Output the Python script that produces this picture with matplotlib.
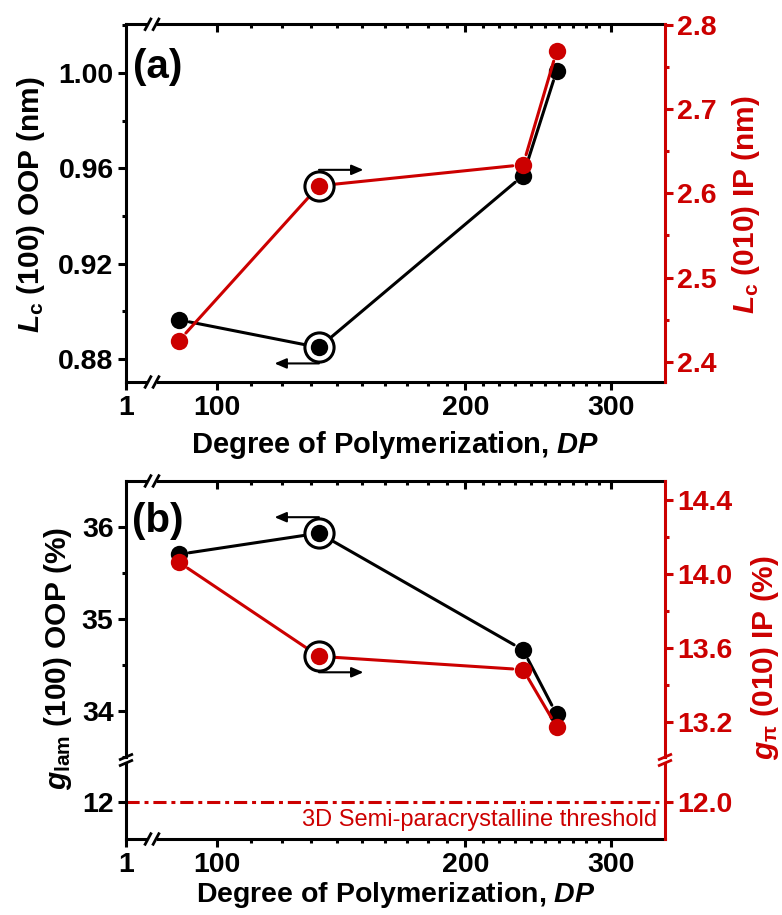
import matplotlib

matplotlib.use("Agg")
import matplotlib.pyplot as plt
import numpy as np
from matplotlib.lines import Line2D
from matplotlib.ticker import FixedLocator, FormatStrFormatter, MultipleLocator, NullLocator
from matplotlib.transforms import offset_copy

# degree of polymerization of the four batches
dp = [90, 133, 235, 258]

# (a) crystal coherence lengths
lc_oop = [0.8964, 0.8848, 0.957, 1.001]  # nm, (100) out-of-plane
lc_ip = [2.425, 2.609, 2.634, 2.769]  # nm, (010) in-plane

# (b) paracrystalline disorder
g_lam = [35.70, 35.93, 34.66, 33.96]  # %, (100) out-of-plane
g_pi = [14.063, 13.554, 13.482, 13.173]  # %, (010) in-plane
g_threshold = 12.0

x_major = [1, 100, 200, 300]
x_major_labels = ["1", "100", "200", "300"]
x_minor = list(range(110, 300, 10))

RED = "#CC0000"
LW = 2.2
FIG_W, FIG_H = 782, 915

plt.rcParams.update(
    {
        "font.family": ["Liberation Sans", "DejaVu Sans"],
        "font.weight": "bold",
        "font.size": 20.5,
        "axes.labelweight": "bold",
        "mathtext.fontset": "custom",
        "mathtext.rm": "Liberation Sans:bold",
        "mathtext.it": "Liberation Sans:italic:bold",
        "mathtext.bf": "Liberation Sans:bold",
        "axes.linewidth": LW,
    }
)

# broken log axis: a short stub holding "1", then a log10 scale from ~84 up
BREAK_DP = 83.5
STUB_DECADES = 0.0315


def fwd(x):
    x = np.asarray(x, dtype=float)
    lb = np.log10(BREAK_DP)
    logx = np.log10(np.clip(x, 1e-9, None))
    stub = lb - (BREAK_DP - x) / (BREAK_DP - 1) * STUB_DECADES
    return np.where(x >= BREAK_DP, logx, stub)


def inv(y):
    y = np.asarray(y, dtype=float)
    lb = np.log10(BREAK_DP)
    up = np.power(10.0, np.clip(y, -50, 50))
    stub = BREAK_DP - (lb - y) / STUB_DECADES * (BREAK_DP - 1)
    return np.where(y >= lb, up, stub)


fig = plt.figure(figsize=(FIG_W / 100, FIG_H / 100), dpi=100)


def px_axes(left, top, right, bottom):
    return fig.add_axes(
        [left / FIG_W, 1 - bottom / FIG_H, (right - left) / FIG_W, (bottom - top) / FIG_H]
    )


def px_line(xs, ys, **kw):
    xs = np.asarray(xs, dtype=float) / FIG_W
    ys = 1 - np.asarray(ys, dtype=float) / FIG_H
    fig.add_artist(Line2D(xs, ys, transform=fig.transFigure, solid_capstyle="butt", **kw))


def set_x(ax):
    ax.set_xscale("function", functions=(fwd, inv))
    ax.set_xlim(1, 349)


def tick_style(ax, axis, direction, color="black"):
    ax.tick_params(axis=axis, which="major", direction=direction, length=6, width=LW,
                   colors=color, labelsize=20.5, pad=3)
    ax.tick_params(axis=axis, which="minor", direction=direction, length=3, width=LW,
                   colors=color)


def only_spines(ax, visible, color="black"):
    for name, sp in ax.spines.items():
        sp.set_visible(name in visible)
        sp.set_color(color)


def bottom_x(ax):
    ax.xaxis.set_major_locator(FixedLocator(x_major))
    ax.xaxis.set_minor_locator(FixedLocator(x_minor))
    ax.set_xticklabels(x_major_labels)
    tick_style(ax, "x", "out")


def top_x(ax):
    tw = ax.twiny()
    set_x(tw)
    tw.xaxis.set_major_locator(FixedLocator(x_major[1:]))
    tw.xaxis.set_minor_locator(FixedLocator(x_minor))
    tw.tick_params(axis="x", labeltop=False)
    tick_style(tw, "x", "in")
    only_spines(tw, [])
    return tw


def series(ax, x, y, color):
    for i in range(len(x) - 1):
        ax.annotate("", xy=(x[i + 1], y[i + 1]), xytext=(x[i], y[i]),
                    arrowprops=dict(arrowstyle="-", lw=LW, color=color,
                                    shrinkA=7.5, shrinkB=7.5),
                    zorder=2)
    ax.plot(x, y, "o", ms=12.5, color=color, mec=color, mew=0, zorder=5)


def ring(ax, x, y, side, direction):
    ax.plot([x], [y], "o", ms=21, mfc="white", mec="black", mew=LW, zorder=4)
    dy = 11.5 if side == "top" else -11.5
    start = offset_copy(ax.transData, fig=fig, x=0, y=dy, units="points")
    end = offset_copy(ax.transData, fig=fig, x=32 * direction, y=dy, units="points")
    ax.annotate("", xy=(x, y), xycoords=end, xytext=(x, y), textcoords=start,
                arrowprops=dict(arrowstyle="-|>,head_length=0.7,head_width=0.3",
                                mutation_scale=10, lw=1.5, color="black",
                                shrinkA=0, shrinkB=0),
                zorder=4)


def x_break(cx, cy):
    px_line([cx - 5, cx + 5], [cy, cy], color="white", lw=4, zorder=10)
    for off in (-4, 4):
        px_line([cx + off - 3.5, cx + off + 3.5], [cy + 6.5, cy - 6.5],
                color="black", lw=2, zorder=11)


def y_break(cx, cy, color):
    for off in (-3, 3):
        px_line([cx - 7, cx + 7], [cy + off + 3, cy + off - 3], color=color, lw=2, zorder=11)


# ---------------- (a) coherence length ----------------
ax_a = px_axes(126, 24.3, 665, 382)
set_x(ax_a)
ax_a.set_ylim(0.8703, 1.0205)
ax_a2 = ax_a.twinx()
ax_a2.set_ylim(2.376, 2.8008)
top_x(ax_a)

bottom_x(ax_a)
ax_a.yaxis.set_major_locator(MultipleLocator(0.04))
ax_a.yaxis.set_minor_locator(MultipleLocator(0.02))
ax_a.yaxis.set_major_formatter(FormatStrFormatter("%.2f"))
tick_style(ax_a, "y", "out")
only_spines(ax_a, ["left", "bottom", "top"])

ax_a2.yaxis.set_major_locator(MultipleLocator(0.1))
ax_a2.yaxis.set_minor_locator(MultipleLocator(0.05))
ax_a2.yaxis.set_major_formatter(FormatStrFormatter("%.1f"))
tick_style(ax_a2, "y", "out", RED)
only_spines(ax_a2, ["right"], RED)

series(ax_a, dp, lc_oop, "black")
series(ax_a2, dp, lc_ip, RED)
ring(ax_a, dp[1], lc_oop[1], "bottom", -1)
ring(ax_a2, dp[1], lc_ip[1], "top", 1)

ax_a.set_xlabel("Degree of Polymerization, $\\mathit{DP}$", labelpad=6, fontsize=21)
ax_a.text(0.059, 0.88, "(a)", transform=ax_a.transAxes, fontsize=29,
          ha="center", va="center")
fig.text(31 / FIG_W, 1 - 205 / FIG_H, r"$\mathit{L}_\mathrm{c}$ (100) OOP (nm)",
         rotation=90, ha="center", va="center", fontsize=21.5)
fig.text(746 / FIG_W, 1 - 205 / FIG_H, r"$\mathit{L}_\mathrm{c}$ (010) IP (nm)",
         rotation=90, ha="center", va="center", fontsize=21.5, color=RED)

# ---------------- (b) paracrystallinity, broken y ----------------
ax_bu = px_axes(126, 481, 665, 757)
ax_bl = px_axes(126, 763, 665, 839)
for ax in (ax_bu, ax_bl):
    set_x(ax)
ax_bu.set_ylim(33.497, 36.497)
ax_bl.set_ylim(11.595, 12.42)
ax_bu2 = ax_bu.twinx()
ax_bu2.set_ylim(13.009, 14.503)
ax_bl2 = ax_bl.twinx()
ax_bl2.set_ylim(11.798, 12.21)
top_x(ax_bu)

ax_bu.tick_params(axis="x", which="both", bottom=False, labelbottom=False)
bottom_x(ax_bl)

ax_bu.yaxis.set_major_locator(MultipleLocator(1))
ax_bu.yaxis.set_minor_locator(MultipleLocator(0.5))
ax_bu.yaxis.set_major_formatter(FormatStrFormatter("%d"))
tick_style(ax_bu, "y", "out")
only_spines(ax_bu, ["left", "top"])

ax_bl.yaxis.set_major_locator(FixedLocator([g_threshold]))
ax_bl.yaxis.set_minor_locator(NullLocator())
ax_bl.yaxis.set_major_formatter(FormatStrFormatter("%d"))
tick_style(ax_bl, "y", "out")
only_spines(ax_bl, ["left", "bottom"])

ax_bu2.yaxis.set_major_locator(MultipleLocator(0.4))
ax_bu2.yaxis.set_minor_locator(MultipleLocator(0.2))
ax_bu2.yaxis.set_major_formatter(FormatStrFormatter("%.1f"))
tick_style(ax_bu2, "y", "out", RED)
only_spines(ax_bu2, ["right"], RED)

ax_bl2.yaxis.set_major_locator(FixedLocator([g_threshold]))
ax_bl2.yaxis.set_minor_locator(NullLocator())
ax_bl2.yaxis.set_major_formatter(FormatStrFormatter("%.1f"))
tick_style(ax_bl2, "y", "out", RED)
only_spines(ax_bl2, ["right"], RED)

series(ax_bu, dp, g_lam, "black")
series(ax_bu2, dp, g_pi, RED)
ring(ax_bu, dp[1], g_lam[1], "top", -1)
ring(ax_bu2, dp[1], g_pi[1], "bottom", 1)

ax_bl.axhline(g_threshold, color=RED, lw=LW, linestyle=(0, (4.3, 1.6, 1.3, 1.6)))
ax_bl.text(0.985, 0.25, "3D Semi-paracrystalline threshold", transform=ax_bl.transAxes,
           fontsize=17, fontweight="normal", color=RED, ha="right", va="center")

ax_bl.set_xlabel("Degree of Polymerization, $\\mathit{DP}$", labelpad=2, fontsize=20.5)
ax_bu.text(0.059, 0.855, "(b)", transform=ax_bu.transAxes, fontsize=29,
           ha="center", va="center")
fig.text(58 / FIG_W, 1 - 658 / FIG_H, r"$\mathit{g}_\mathrm{lam}$ (100) OOP (%)",
         rotation=90, ha="center", va="center", fontsize=21.5)
fig.text(765 / FIG_W, 1 - 658 / FIG_H, r"$\mathit{g}_\mathrm{\pi}$ (010) IP (%)",
         rotation=90, ha="center", va="center", fontsize=21.5, color=RED)

# axis break marks
for cy in (24.3, 382, 481, 839):
    x_break(152, cy)
y_break(126, 760, "black")
y_break(665, 760, RED)

fig.savefig("out.png", dpi=100)
